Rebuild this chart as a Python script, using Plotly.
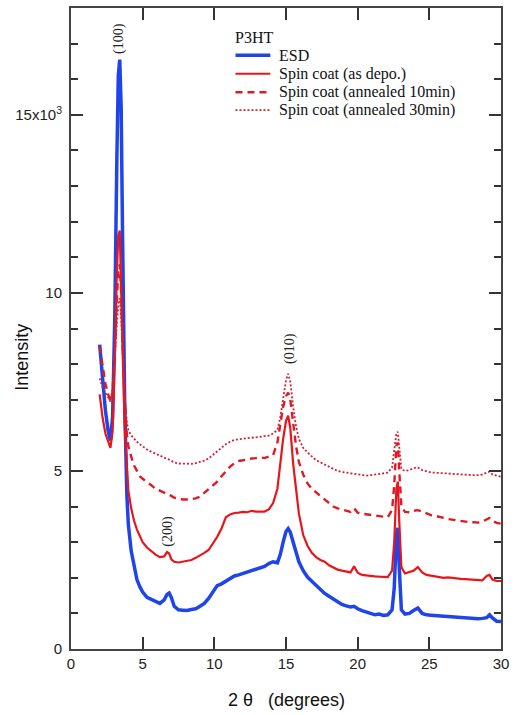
import plotly.graph_objects as go

# 2-theta grid shared by all four scans (degrees)
two_theta = [
    2.0, 2.2, 2.4, 2.6, 2.75, 2.9, 3.05, 3.2, 3.3, 3.4,
    3.5, 3.6, 3.75, 3.9, 4.0, 4.2, 4.4, 4.6, 4.8, 5.0,
    5.3, 5.6, 5.9, 6.2, 6.5, 6.7, 6.85, 7.0, 7.2, 7.5,
    7.8, 8.1, 8.4, 8.7, 9.0, 9.3, 9.6, 9.9, 10.2, 10.5,
    10.8, 11.1, 11.4, 11.7, 12.0, 12.3, 12.6, 12.9, 13.2, 13.5,
    13.8, 14.1, 14.4, 14.6, 14.8, 15.0, 15.15, 15.3, 15.5, 15.7,
    15.9, 16.2, 16.5, 16.8, 17.1, 17.4, 17.7, 18.0, 18.3, 18.6,
    18.9, 19.2, 19.5, 19.75, 20.0, 20.3, 20.6, 20.9, 21.2, 21.5,
    21.8, 22.1, 22.4, 22.55, 22.7, 22.8, 22.9, 23.05, 23.3, 23.6,
    23.9, 24.2, 24.5, 24.8, 25.1, 25.4, 25.7, 26.0, 26.3, 26.6,
    26.9, 27.2, 27.5, 27.8, 28.1, 28.4, 28.7, 29.0, 29.2, 29.4,
    29.7, 30.0,
]

esd = [
    8550, 7500, 6700, 6100, 5850, 6500, 9200, 13800, 16100, 16550,
    15200, 11500, 6800, 4300, 3500, 2750, 2300, 1950, 1750, 1600,
    1450, 1400, 1330, 1280, 1380, 1530, 1570, 1450, 1200, 1100,
    1090, 1080, 1110, 1130, 1200, 1280, 1420, 1620, 1780, 1830,
    1900, 1960, 2050, 2080, 2120, 2180, 2210, 2250, 2280, 2320,
    2400, 2450, 2420, 2650, 3000, 3300, 3380, 3280, 3000, 2700,
    2450, 2200, 2020, 1900, 1780, 1650, 1560, 1480, 1400, 1320,
    1250, 1210, 1180, 1200, 1130, 1080, 1050, 1000, 960, 980,
    940, 960, 1100, 1700, 3200, 3400, 2300, 1100, 980, 1000,
    1080, 1150, 1000, 960, 950, 940, 950, 920, 930, 910,
    900, 900, 880, 870, 860, 850, 860, 880, 960, 870,
    780, 770,
]

spin_as_depo = [
    7150, 6500, 6050, 5800, 5650, 6100, 8000, 10600, 11600, 11750,
    10400, 8400, 6200, 4900, 4450, 3950, 3600, 3350, 3150, 3000,
    2850, 2750, 2650, 2580, 2600, 2720, 2680, 2520, 2450, 2430,
    2460, 2480, 2500, 2560, 2620, 2700, 2780, 2950, 3150, 3380,
    3700, 3780, 3820, 3830, 3850, 3840, 3880, 3860, 3850, 3860,
    3920, 4100, 4500, 5200, 5900, 6400, 6550, 6200, 5200, 4500,
    3800, 3200, 2900, 2700, 2580, 2500, 2450, 2350, 2280, 2230,
    2200, 2180, 2150, 2320, 2140, 2080, 2060, 2050, 2040, 2030,
    2020, 2020, 2200, 3000, 4500, 4700, 3600, 2300, 2120, 2150,
    2200, 2300, 2150, 2080, 2060, 2050, 2030, 2000, 2010, 1990,
    1980, 1970, 1960, 1950, 1940, 1940, 1930, 2050, 2080, 1950,
    1910, 1910,
]

spin_10min = [
    8500, 7900, 7450, 7150, 6950, 7200, 8300, 9800, 10600, 10800,
    10000, 8600, 7000, 6000, 5700, 5400, 5150, 5000, 4850, 4780,
    4700, 4600, 4500, 4450, 4380, 4350, 4330, 4300, 4250, 4220,
    4200, 4200, 4220, 4230, 4280, 4380, 4480, 4600, 4700, 4850,
    5000, 5120, 5220, 5280, 5300, 5330, 5350, 5360, 5380, 5360,
    5400, 5450, 5800, 6300, 6800, 7100, 7200, 7000, 6300, 5700,
    5250, 4900, 4650, 4500, 4400, 4300, 4200, 4100, 4000, 3950,
    3920, 3880, 3850, 3950, 3830, 3800, 3780, 3760, 3740, 3720,
    3700, 3700, 3900, 4600, 5700, 5800, 5000, 4000, 3850, 3840,
    3880, 3900, 3860, 3800, 3760, 3740, 3700, 3680, 3650, 3630,
    3610, 3600, 3580, 3560, 3560, 3550, 3580, 3650, 3680, 3600,
    3540, 3520,
]

spin_30min = [
    7600, 7350, 7200, 7050, 6950, 7300, 8100, 9100, 9700, 9850,
    9300, 8300, 7100, 6350, 6150, 6000, 5900, 5820, 5750, 5680,
    5600, 5540, 5480, 5420, 5360, 5340, 5320, 5280, 5240, 5210,
    5200, 5200, 5200, 5220, 5250, 5290, 5350, 5450, 5550, 5650,
    5750, 5820, 5870, 5890, 5900, 5920, 5930, 5950, 5960, 5980,
    5990, 6050, 6150, 6500, 7000, 7550, 7730, 7500, 6800, 6250,
    5900, 5650, 5520, 5400, 5300, 5240, 5190, 5120, 5060, 5000,
    4970, 4950, 4930, 4920, 4900, 4880, 4870, 4880, 4900, 4920,
    4930, 4950, 5100, 5600, 6050, 6100, 5600, 5050, 5000, 5020,
    5080, 5100, 5020, 4980, 4960, 4950, 4940, 4930, 4920, 4910,
    4910, 4900, 4890, 4880, 4880, 4880, 4900, 4950, 4980, 4900,
    4860, 4840,
]

series_names = [
    "ESD",
    "Spin coat (as depo.)",
    "Spin coat (annealed 10min)",
    "Spin coat (annealed 30min)",
]
series_values = [esd, spin_as_depo, spin_10min, spin_30min]
legend_title = "P3HT"

for series in series_values:
    assert len(series) == len(two_theta)

# Reflection labels: (text, 2theta, intensity)
peak_labels = ["(100)", "(200)", "(010)"]
peak_x = [3.4, 6.78, 15.27]
peak_y = [17150, 3300, 8450]

y_tick_vals = [0, 5000, 10000, 15000]
y_tick_text = ["0", "5", "10", "15x10<sup>3</sup>"]
x_tick_vals = [0, 5, 10, 15, 20, 25, 30]

SANS = "Liberation Sans, Arial, sans-serif"
SERIF = "Liberation Serif, Times New Roman, serif"

line_styles = [
    dict(color="#1f44ea", width=3.5),
    dict(color="#e8161b", width=2.2),
    dict(color="#e01a24", width=2.4, dash="7px,5px"),
    dict(color="#cf2236", width=1.8, dash="2px,2px"),
]

fig = go.Figure()
for name, values, style in zip(series_names, series_values, line_styles):
    fig.add_trace(go.Scatter(x=two_theta, y=values, mode="lines", name=name,
                             line=style, showlegend=False))

for txt, px, py in zip(peak_labels, peak_x, peak_y):
    fig.add_annotation(x=px, y=py, text=txt, showarrow=False, textangle=-90,
                       xanchor="center", yanchor="middle",
                       font=dict(family=SERIF, size=14, color="#222"))

# Compact key in the upper middle of the plot: title, then one row per scan
key_left = 0.3825
key_sample_len = 0.081
key_text_x = 0.4816
key_title_y = 0.9541
key_rows_y = [0.9261, 0.8974, 0.8686, 0.8406]
fig.add_annotation(xref="paper", yref="paper", x=0.378, y=key_title_y,
                   text=legend_title, showarrow=False, borderpad=0,
                   xanchor="left", yanchor="middle",
                   font=dict(family=SERIF, size=16, color="#111"))
for name, style, ry in zip(series_names, line_styles, key_rows_y):
    fig.add_shape(type="line", xref="paper", yref="paper",
                  x0=key_left, x1=key_left + key_sample_len, y0=ry, y1=ry,
                  line=style)
    fig.add_annotation(xref="paper", yref="paper", x=key_text_x, y=ry,
                       text=name, showarrow=False, borderpad=0,
                       xanchor="left", yanchor="middle",
                       font=dict(family=SERIF, size=16, color="#111"))

# Axis titles
fig.add_annotation(xref="paper", yref="paper", x=-0.113, y=0.455,
                   text="Intensity", showarrow=False, textangle=-90,
                   xanchor="center", yanchor="middle",
                   font=dict(family=SANS, size=18, color="#111"))
fig.add_annotation(xref="paper", yref="paper", x=0.502, y=-0.0793,
                   text="2 θ   (degrees)", showarrow=False,
                   xanchor="center", yanchor="middle",
                   font=dict(family=SANS, size=18, color="#111"))

axis_common = dict(showgrid=False, zeroline=False, showline=True,
                   linecolor="#444", linewidth=2, ticks="inside",
                   tickcolor="#333", tickwidth=1.5, mirror="allticks",
                   tickfont=dict(family=SANS, size=15, color="#222"))

fig.update_layout(
    width=515, height=715,
    margin=dict(l=71, r=10, t=6, b=66),
    paper_bgcolor="white", plot_bgcolor="white",
    showlegend=False,
    xaxis=dict(range=[0, 30], tickvals=x_tick_vals, ticklen=12, **axis_common),
    yaxis=dict(range=[0, 18000], tickvals=y_tick_vals, ticktext=y_tick_text,
               ticklen=12, ticklabelstandoff=4,
               minor=dict(dtick=1000, ticklen=7, ticks="inside",
                          tickcolor="#333", tickwidth=1.5),
               **axis_common),
)

fig.write_html("out.html")
